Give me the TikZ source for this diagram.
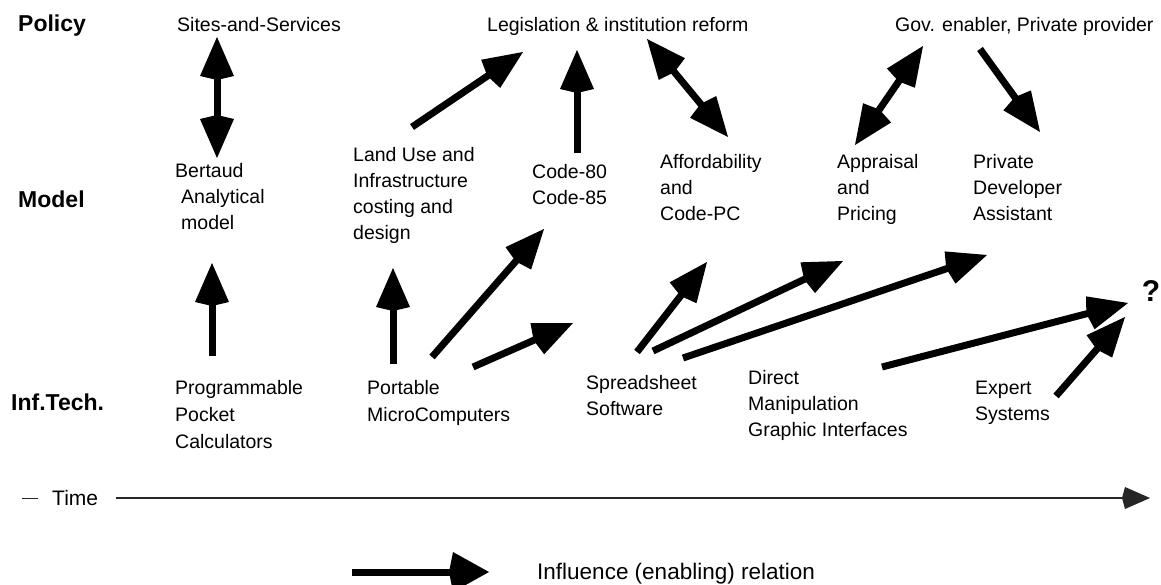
\documentclass[tikz,border=0pt]{standalone}
\usepackage{fontspec}
\setmainfont{Liberation Sans}
\usetikzlibrary{arrows.meta}
\begin{document}
\begin{tikzpicture}[x=1pt,y=-1pt,
  lbl/.style={font=\fontsize{19.5}{26}\selectfont, inner sep=0pt, anchor=base west, align=left},
  hdr/.style={font=\fontsize{23}{28}\selectfont\bfseries, inner sep=0pt, anchor=base west},
  bighead/.tip={Kite[length=43pt,width=34pt,inset=4pt]},
  inf/.style={line width=7pt, -bighead},
  binf/.style={line width=7pt, bighead-bighead},
  timeline/.style={line width=1.3pt, draw=black!85, -{Kite[length=28pt,width=22pt,inset=3pt]}},
  legarrow/.style={line width=7pt, -{Kite[length=40pt,width=40pt,inset=4pt]}},
]
\useasboundingbox (0,0) rectangle (1161,585);

% row headers
\node[hdr] (policy) at (18,32) {Policy};
\node[hdr] (model) at (18,208) {Model};
\node[hdr] (inftech) at (11,410) {Inf.Tech.};

% policy row (single lines: base = baseline)
\node[lbl] (sites) at (177,32) {Sites-and-Services};
\node[lbl] (legis) at (487,32) {Legislation \& institution reform};
\node[lbl] (gov) at (895,32) {Gov. enabler, Private provider};

% model row (multi-line: base = baseline of last line)
\node[lbl] (bertaud) at (175,230) {Bertaud\\\hspace{6pt}Analytical\\\hspace{6pt}model};
\node[lbl] (landuse) at (353,240) {Land Use and\\Infrastructure\\costing and\\design};
\node[lbl] (code) at (532,205) {Code-80\\Code-85};
\node[lbl] (afford) at (660,221) {Affordability\\and\\Code-PC};
\node[lbl] (apprais) at (837,221) {Appraisal\\and\\Pricing};
\node[lbl] (privdev) at (973,221) {Private\\Developer\\Assistant};

% inf tech row
\node[lbl, font=\fontsize{19.5}{27}\selectfont] (prog) at (175,448) {Programmable\\Pocket\\Calculators};
\node[lbl, font=\fontsize{19.5}{27}\selectfont] (portable) at (367,421) {Portable\\MicroComputers};
\node[lbl] (spread) at (586,415) {Spreadsheet\\Software};
\node[lbl] (direct) at (748,436) {Direct\\Manipulation\\Graphic Interfaces};
\node[lbl] (expert) at (975,420) {Expert\\Systems};
\node[font=\fontsize{30}{32}\selectfont\bfseries, inner sep=0pt] (quest) at (1151,291) {?};

% arrow end points
\coordinate (a1s) at (217,37);   \coordinate (a1e) at (217,158);
\coordinate (a2s) at (412,127);  \coordinate (a2e) at (523,52);
\coordinate (a3s) at (577,153);  \coordinate (a3e) at (577,50);
\coordinate (a4s) at (647,39);   \coordinate (a4e) at (728,137);
\coordinate (a5s) at (923,46);   \coordinate (a5e) at (855,145);
\coordinate (a6s) at (980,49);   \coordinate (a6e) at (1040,132);
\coordinate (a7s) at (212,356);  \coordinate (a7e) at (212,263);
\coordinate (a8s) at (393,364);  \coordinate (a8e) at (393,268);
\coordinate (a9s) at (432,357);  \coordinate (a9e) at (544,229);
\coordinate (a10s) at (473,367); \coordinate (a10e) at (573,323);
\coordinate (a11s) at (637,352); \coordinate (a11e) at (707,262);
\coordinate (a12s) at (653,351); \coordinate (a12e) at (843,261);
\coordinate (a13s) at (683,358); \coordinate (a13e) at (987,255);
\coordinate (a14s) at (882,367); \coordinate (a14e) at (1128,303);
\coordinate (a15s) at (1056,396);\coordinate (a15e) at (1125,317);

\draw[binf] (a1s) -- (a1e);
\draw[inf] (a2s) -- (a2e);
\draw[inf] (a3s) -- (a3e);
\draw[binf] (a4s) -- (a4e);
\draw[binf] (a5s) -- (a5e);
\draw[inf] (a6s) -- (a6e);
\draw[inf] (a7s) -- (a7e);
\draw[inf] (a8s) -- (a8e);
\draw[inf] (a9s) -- (a9e);
\draw[inf] (a10s) -- (a10e);
\draw[inf] (a11s) -- (a11e);
\draw[inf] (a12s) -- (a12e);
\draw[inf] (a13s) -- (a13e);
\draw[inf] (a14s) -- (a14e);
\draw[inf] (a15s) -- (a15e);

% time axis
\node[font=\fontsize{21}{24}\selectfont, inner sep=0pt, anchor=west] (time) at (22,498)
  {\textcolor{black!85}{\rule[0.33em]{16pt}{1pt}}\hspace{14pt}Time};
\coordinate (tend) at (1150,498);
\draw[timeline] ([xshift=18pt]time.east) -- (tend);

% legend
\coordinate (lg1) at (352,572);
\coordinate (lg2) at (489,572);
\draw[legarrow] (lg1) -- (lg2);
\node[font=\fontsize{22.5}{26}\selectfont, inner sep=0pt, anchor=west] (legend) at (537,574) {Influence (enabling) relation};
\end{tikzpicture}
\end{document}
